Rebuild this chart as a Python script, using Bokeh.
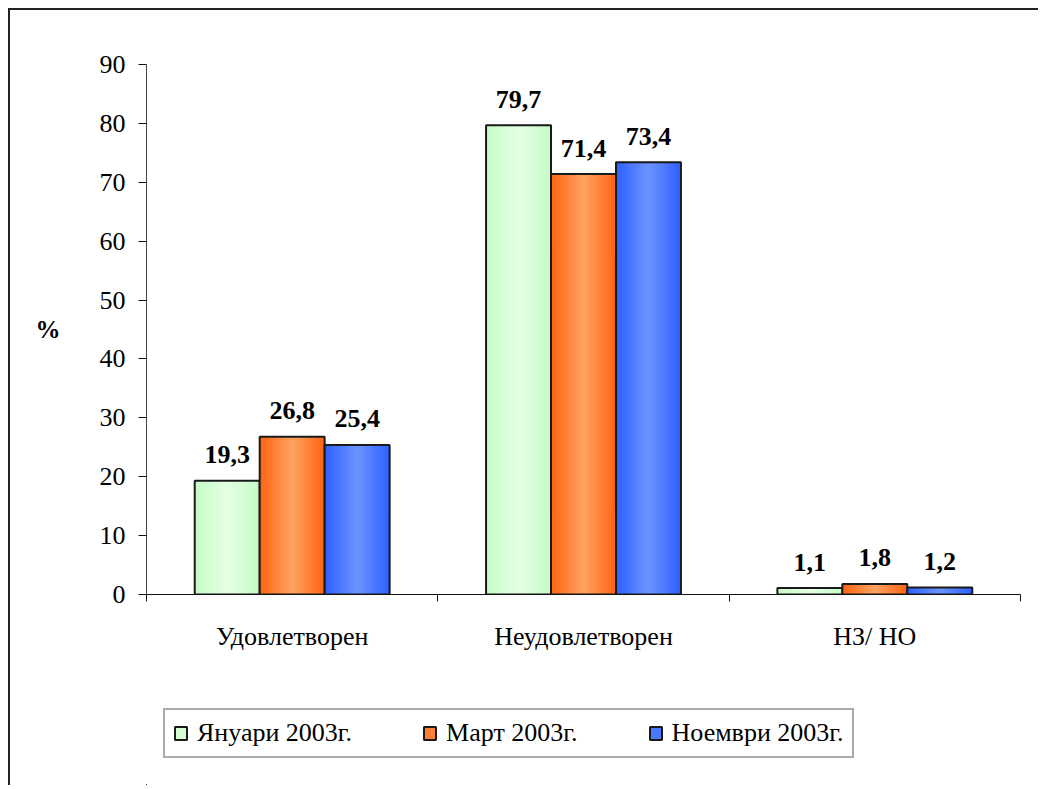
from bokeh.plotting import figure
from bokeh.layouts import column
from bokeh.models import Range1d, FixedTicker, ColumnDataSource, Legend, LegendItem
from bokeh.transform import dodge
from bokeh.core.properties import value
from bokeh.embed import file_html
from bokeh.resources import INLINE

categories = ["Удовлетворен", "Неудовлетворен", "НЗ/ НО"]
series_names = ["Януари 2003г.", "Март 2003г.", "Ноември 2003г."]
jan = [19.3, 79.7, 1.1]
mar = [26.8, 71.4, 1.8]
nov = [25.4, 73.4, 1.2]
y_ticks = [0, 10, 20, 30, 40, 50, 60, 70, 80, 90]

series_values = [jan, mar, nov]
edge_colors = ["#c6fbc6", "#ff6612", "#3062ff"]
center_colors = ["#e4ffe4", "#ffa060", "#6a92ff"]

FONT = "'Liberation Serif', 'Times New Roman', 'DejaVu Serif', serif"
FS = "26px"
BW = 0.223
offsets = [-BW, 0.0, BW]

p = figure(width=1028, height=650, x_range=Range1d(0, 3), y_range=Range1d(0, 90),
           output_backend="svg", toolbar_location=None,
           min_border_left=136, min_border_right=18, min_border_top=54, min_border_bottom=66)
p.xgrid.visible = False
p.ygrid.visible = False
p.outline_line_color = None
p.background_fill_color = "white"
p.border_fill_color = "white"


def mix(c1, c2, t):
    a = [int(c1[i:i + 2], 16) for i in (1, 3, 5)]
    b = [int(c2[i:i + 2], 16) for i in (1, 3, 5)]
    return "#%02x%02x%02x" % tuple(round(a[i] + (b[i] - a[i]) * t) for i in range(3))


xs = [i + 0.5 for i in range(len(categories))]
sources = []
N = 14
for s, (name, vals) in enumerate(zip(series_names, series_values)):
    src = ColumnDataSource(dict(x=xs, top=vals,
                                lbl=[("%.1f" % v).replace(".", ",") for v in vals]))
    sources.append(src)
    xd = dodge("x", offsets[s], range=p.x_range)
    for k in range(N):
        frac = 1 - k / N
        col = mix(edge_colors[s], center_colors[s], k / (N - 1))
        p.vbar(x=xd, top="top", bottom=0, width=BW * frac, source=src,
               fill_color=col, line_color=None)
    p.vbar(x=xd, top="top", bottom=0, width=BW, source=src,
           fill_color=None, line_color="#1a1a1a", line_width=2)
    p.text(x=xd, y="top", text="lbl", source=src, text_align="center",
           text_baseline="alphabetic", y_offset=-26,
           text_font=value(FONT), text_font_style="bold", text_font_size="26px",
           text_color="black")

# x axis: labels at category centres, ticks at category boundaries
xa = p.xaxis[0]
xa.ticker = FixedTicker(ticks=xs, minor_ticks=[0, 1, 2, 3])
xa.major_label_overrides = {x: c for x, c in zip(xs, categories)}
xa.major_tick_out = 0
xa.major_tick_in = 0
xa.minor_tick_out = 7
xa.minor_tick_in = 0
xa.axis_line_color = "#111111"
xa.minor_tick_line_color = "#111111"
xa.major_label_text_font = FONT
xa.major_label_text_font_size = FS
xa.major_label_text_color = "black"
xa.major_label_standoff = 20

ya = p.yaxis[0]
ya.ticker = FixedTicker(ticks=y_ticks, minor_ticks=[])
ya.major_tick_out = 8
ya.major_tick_in = 0
ya.axis_line_color = "#444444"
ya.major_tick_line_color = "#111111"
ya.major_label_text_font = FONT
ya.major_label_text_font_size = "26px"
ya.major_label_text_color = "black"
ya.major_label_standoff = 13
ya.axis_label = "%"
ya.axis_label_text_font = FONT
ya.axis_label_text_font_style = "bold"
ya.axis_label_text_font_size = "25px"
ya.axis_label_text_color = "black"
ya.axis_label_standoff = 36
try:
    ya.axis_label_orientation = "horizontal"
except Exception:
    pass

# legend strip below the chart: its ranges keep the bars off-canvas, only swatches show
p2 = figure(width=1028, height=125, x_range=Range1d(100, 101), y_range=Range1d(1000, 1001),
            output_backend="svg", toolbar_location=None,
            x_axis_location=None, y_axis_location=None,
            min_border=0, min_border_left=0, min_border_right=0,
            min_border_top=0, min_border_bottom=0)
p2.xgrid.visible = False
p2.ygrid.visible = False
p2.outline_line_color = None
p2.border_fill_color = "white"
p2.background_fill_color = "white"

legend_items = []
for s, name in enumerate(series_names):
    r = p2.vbar(x="x", top="top", bottom=0, width=BW, source=sources[s],
                fill_color=mix(edge_colors[s], center_colors[s], 0.45),
                line_color="#1a1a1a", line_width=2)
    legend_items.append(LegendItem(label=name, renderers=[r]))

legend = Legend(items=legend_items, orientation="horizontal", location=(17, 27),
                border_line_color="#555555", border_line_width=2,
                label_text_font=FONT, label_text_font_size=FS, label_text_color="black",
                glyph_width=15, glyph_height=16, label_standoff=9, spacing=70,
                padding=8, margin=0, background_fill_color="white")
p2.add_layout(legend, "center")

layout = column(p, p2, spacing=0)
layout.margin = (8, 0, 0, 8)
layout.styles = {"border-left": "2px solid #222222", "border-top": "2px solid #222222"}

open("out.html", "w").write(file_html(layout, INLINE))
